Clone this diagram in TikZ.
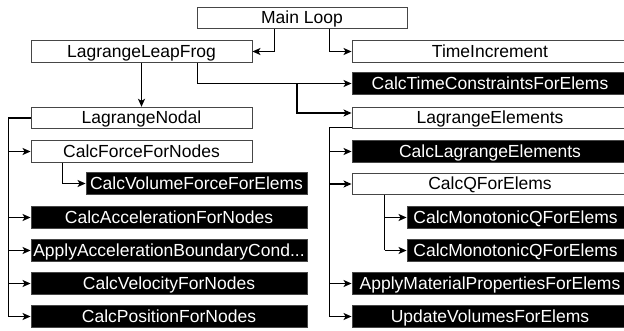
\documentclass[tikz,border=0pt]{standalone}
\usepackage{fontspec}
\setmainfont{Liberation Sans}
\usetikzlibrary{arrows.meta,calc}

\definecolor{boxline}{RGB}{70,70,70}

\tikzset{
  fn/.style={draw=boxline, line width=0.9pt, inner sep=0pt, minimum height=21.5pt,
    font=\fontsize{17.5}{20}\selectfont, text height=13pt, text depth=1pt},
  plain/.style={fn, fill=white, text=black},
  dark/.style={fn, fill=black, text=white},
  wire/.style={draw=black, line width=1.2pt},
  conn/.style={wire, -{Stealth[length=8pt,width=7pt,inset=2pt]}},
}

\begin{document}
\begin{tikzpicture}[x=1pt,y=-1pt]
\useasboundingbox (0,0) rectangle (624,331);

% top level
\node[plain, minimum width=210pt] (main) at (302,18) {Main Loop};
\node[plain, minimum width=221pt] (llf)  at (141.5,51.5) {LagrangeLeapFrog};
\node[plain, minimum width=276pt] (ti)   at (490,51.5) {TimeIncrement};
\node[dark,  minimum width=276pt] (ctc)  at (490,83.5) {CalcTimeConstraintsForElems};
\node[plain, minimum width=276pt] (le)   at (490,118) {LagrangeElements};

% nodal branch
\node[plain, minimum width=221pt] (ln)   at (141.5,118) {LagrangeNodal};
\node[plain, minimum width=221pt] (cfn)  at (141.5,151.5) {CalcForceForNodes};
\node[dark,  minimum width=221pt] (cvf)  at (196.5,183.5) {CalcVolumeForceForElems};
\node[dark,  minimum width=276pt] (can)  at (169,217.5) {CalcAccelerationForNodes};
\node[dark,  minimum width=276pt] (aabc) at (169,250.5) {ApplyAccelerationBoundaryCond...};
\node[dark,  minimum width=276pt] (cvn)  at (169,283.5) {CalcVelocityForNodes};
\node[dark,  minimum width=276pt] (cpn)  at (169,316.5) {CalcPositionForNodes};

% element branch
\node[dark,  minimum width=276pt] (cle)  at (490,151.5) {CalcLagrangeElements};
\node[plain, minimum width=276pt] (cq)   at (490,184) {CalcQForElems};
\node[dark,  minimum width=217pt] (cmq1) at (515.5,217.5) {CalcMonotonicQForElems};
\node[dark,  minimum width=217pt] (cmq2) at (515.5,250.5) {CalcMonotonicQForElems};
\node[dark,  minimum width=276pt] (amp)  at (490,283.5) {ApplyMaterialPropertiesForElems};
\node[dark,  minimum width=276pt] (uv)   at (490,316.5) {UpdateVolumesForElems};

% main loop calls
\draw[conn] ($(main.south west)+(78,0)$) |- (llf.east);
\draw[conn] ($(main.south west)+(133,0)$) |- (ti.west);

% leapfrog calls
\draw[conn] (llf.south) -- (ln.north);
\draw[conn] ($(llf.south east)+(-55,0)$) |- (ctc.west);
\coordinate (fork) at (297,83.5);
\draw[conn] (fork) |- ($(le.west)+(0,-5)$);

% nodal calls
\draw[wire] (ln.west) -- ++(-22,0) coordinate (lnb) -- (lnb |- cpn.west);
\foreach \n in {cfn,can,aabc,cvn,cpn}
  \draw[conn] (lnb |- \n.west) -- (\n.west);
\draw[conn] ($(cfn.south west)+(32,0)$) |- (cvf.west);

% element calls
\draw[wire] ($(le.south west)+(0,-2)$) -- ++(-22,0) coordinate (leb) -- (leb |- uv.west);
\foreach \n in {cle,cq,amp,uv}
  \draw[conn] (leb |- \n.west) -- (\n.west);
\draw[wire] ($(cq.south west)+(33,0)$) coordinate (cqb) -- (cqb |- cmq2.west);
\foreach \n in {cmq1,cmq2}
  \draw[conn] (cqb |- \n.west) -- (\n.west);
\end{tikzpicture}
\end{document}
